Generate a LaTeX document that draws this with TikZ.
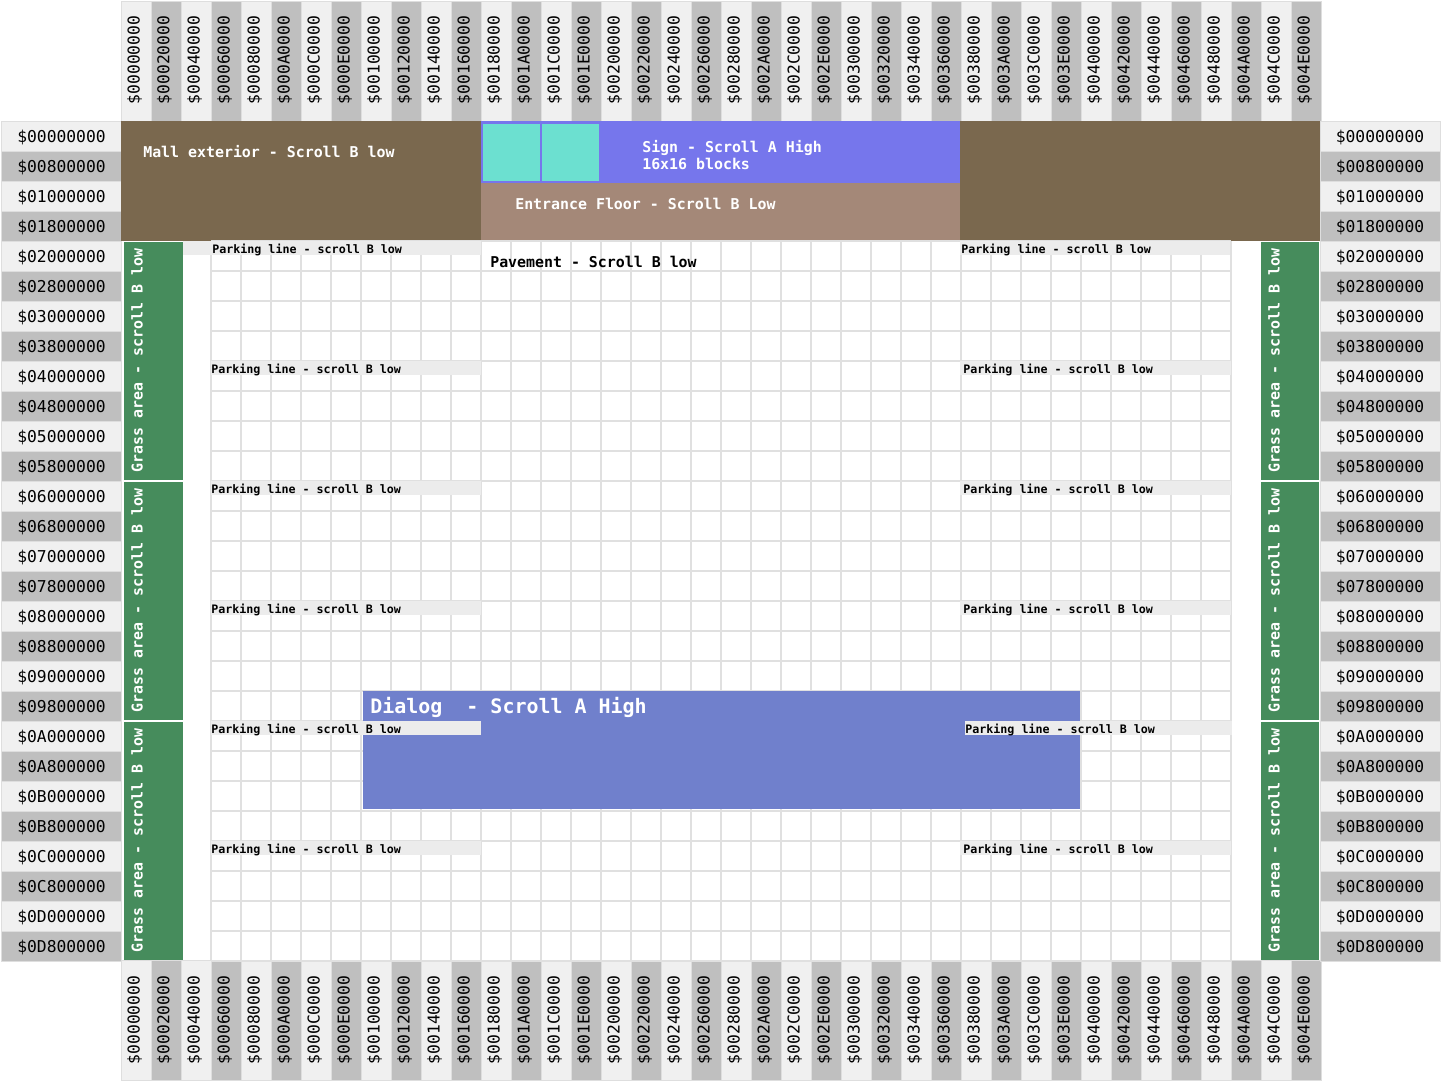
\documentclass[tikz,border=0pt]{standalone}
\usepackage{fontspec}
\setmonofont{DejaVu Sans Mono}
\usepackage{tikz}
\usetikzlibrary{positioning}
\definecolor{hdlight}{RGB}{240,240,240}
\definecolor{hddark}{RGB}{191,191,191}
\definecolor{hdline}{RGB}{222,222,222}
\definecolor{gridgray}{RGB}{224,224,224}
\definecolor{mallbrown}{RGB}{122,104,78}
\definecolor{floortan}{RGB}{164,136,120}
\definecolor{signblue}{RGB}{118,118,236}
\definecolor{tilecyan}{RGB}{108,224,208}
\definecolor{grassgreen}{RGB}{70,140,92}
\definecolor{dialogblue}{RGB}{112,128,204}
\definecolor{parkgray}{RGB}{236,236,236}

\begin{document}
\begin{tikzpicture}[x=0.025cm,y=-0.025cm,
 hdcell/.style={draw=hdline,line width=0.7pt},
 hdtext/.style={font=\ttfamily\fontsize{11.6}{12}\selectfont,text=black,inner sep=0pt},
 maplabel/.style={font=\ttfamily\bfseries\fontsize{10.6}{12.1}\selectfont,text=white,inner sep=0pt,anchor=west},
 parklabel/.style={font=\ttfamily\bfseries\fontsize{8.3}{9}\selectfont,text=black,inner sep=0pt,anchor=base west},
 gridline/.style={gridgray,line width=1.1pt}]
 \useasboundingbox (0,0) rectangle (1441,1081);
 \fill[white] (0,0) rectangle (1441,1081);
 \foreach \h [count=\i from 0] in {00,02,04,06,08,0A,0C,0E,10,12,14,16,18,1A,1C,1E,20,22,24,26,28,2A,2C,2E,30,32,34,36,38,3A,3C,3E,40,42,44,46,48,4A,4C,4E}{
  \ifodd\i\relax\def\hdcol{hddark}\else\def\hdcol{hdlight}\fi
  \draw[hdcell,fill=\hdcol] ({121+30*\i},1) rectangle ({151+30*\i},121);
  \draw[hdcell,fill=\hdcol] ({121+30*\i},960) rectangle ({151+30*\i},1080);
  \node[hdtext,rotate=90] (coltop\i) at ({134.5+30*\i},60) {\$00\h0000};
  \node[hdtext,rotate=90] (colbot\i) at ({134.5+30*\i},1020) {\$00\h0000};
 }
 \foreach \h [count=\j from 0] in {00,08,10,18,20,28,30,38,40,48,50,58,60,68,70,78,80,88,90,98,A0,A8,B0,B8,C0,C8,D0,D8}{
  \ifodd\j\relax\def\hdcol{hddark}\else\def\hdcol{hdlight}\fi
  \draw[hdcell,fill=\hdcol] (1,{121+30*\j}) rectangle (121,{151+30*\j});
  \draw[hdcell,fill=\hdcol] (1320,{121+30*\j}) rectangle (1440,{151+30*\j});
  \node[hdtext] (rowleft\j) at (61.5,{137.5+30*\j}) {\$0\h00000};
  \node[hdtext] (rowright\j) at (1380,{137.5+30*\j}) {\$0\h00000};
 }
 \fill[mallbrown] (121,121) rectangle (1320,241);
 \fill[signblue] (481,121) rectangle (960,183);
 \fill[tilecyan] (483,124) rectangle (540,181);
 \fill[tilecyan] (542,124) rectangle (599,181);
 \fill[floortan] (481,183) rectangle (960,241);
 \foreach \x in {211,241,...,1231}
  \draw[gridline] (\x,241) -- (\x,960);
 \foreach \y in {241,271,...,961}
  \draw[gridline] (211,\y) -- (1231,\y);
 \foreach \g in {0,1,2}{
  \fill[grassgreen] (124,{242+240*\g}) rectangle (183,{480+240*\g});
  \fill[grassgreen] (1261,{242+240*\g}) rectangle (1319,{480+240*\g});
  \node[maplabel,rotate=90] (grassleft\g) at (137,{473+240*\g}) {Grass area - scroll B low};
  \node[maplabel,rotate=90] (grassright\g) at (1274,{473+240*\g}) {Grass area - scroll B low};
 }
 \fill[dialogblue] (363,691) rectangle (1080,809);
 \foreach \xa/\xb/\y/\tx [count=\k] in {183/481/241/212,211/481/361/211,211/481/481/211,211/481/601/211,211/481/721/211,211/481/841/211}{
  \begin{scope}
   \clip (\xa,\y) rectangle (\xb,\y+14);
   \fill[parkgray] (\xa,\y) rectangle (\xb,\y+14);
   \node[parklabel] (parkleft\k) at (\tx,\y+12.5) {Parking line - scroll B low};
  \end{scope}
 }
 \foreach \xa/\xb/\y/\tx [count=\k] in {960/1230/241/961,960/1231/361/963,960/1231/481/963,960/1231/601/963,965/1232/721/965,960/1231/841/963}{
  \begin{scope}
   \clip (\xa,\y) rectangle (\xb,\y+14);
   \fill[parkgray] (\xa,\y) rectangle (\xb,\y+14);
   \node[parklabel] (parkright\k) at (\tx,\y+12.5) {Parking line - scroll B low};
  \end{scope}
 }
 \node[maplabel] (mall) at (143,152) {Mall exterior - Scroll B low};
 \node[maplabel,align=left] (sign) at (642,155) {Sign - Scroll A High\\16x16 blocks};
 \node[maplabel] (entrance) at (515,204) {Entrance Floor - Scroll B Low};
 \node[maplabel,text=black] (pavement) at (490,262) {Pavement - Scroll B low};
 \node[maplabel,font=\ttfamily\bfseries\fontsize{14.2}{16}\selectfont] (dialog) at (370,707) {Dialog~ - Scroll A High};
\end{tikzpicture}
\end{document}
